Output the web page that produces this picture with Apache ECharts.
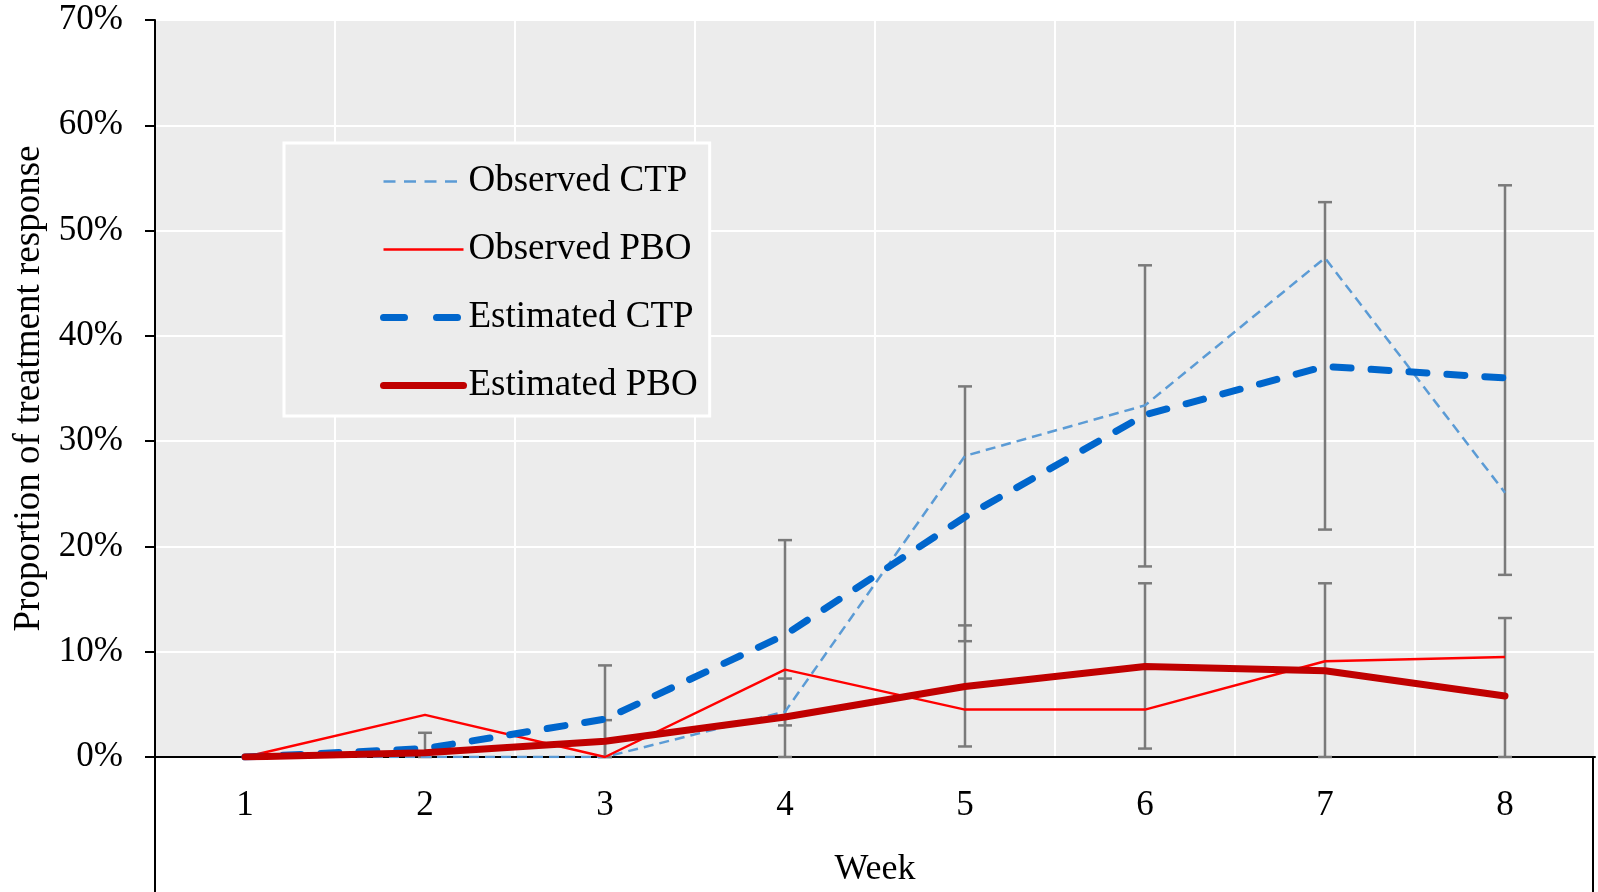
<!DOCTYPE html>
<html><head><meta charset="utf-8">
<script src="https://cdn.jsdelivr.net/npm/echarts@6/dist/echarts.min.js"></script>
<style>html,body{margin:0;padding:0;background:#fff}#c{width:1598px;height:892px}</style>
</head><body><div id="c"></div>
<script>
const weeks = ['1','2','3','4','5','6','7','8'];
const observedCTP = [0, 0, 0, 4.3, 28.6, 33.4, 47.4, 25.1];
const observedPBO = [0, 4.0, 0, 8.3, 4.5, 4.5, 9.1, 9.5];
const estimatedCTP = [0, 0.8, 3.6, 11.6, 22.8, 32.5, 37.1, 36.0];
const estimatedPBO = [0, 0.4, 1.5, 3.8, 6.7, 8.6, 8.2, 5.8];
const ctpLow  = [null, 0, 0, 3.0, 11.0, 18.1, 21.6, 17.3];
const ctpHigh = [null, 2.3, 8.7, 20.6, 35.2, 46.7, 52.7, 54.3];
const pboLow  = [null, null, 0, 0, 1.0, 0.8, 0, 0];
const pboHigh = [null, null, 3.5, 7.45, 12.5, 16.5, 16.5, 13.2];
const seriesNames = ['Observed CTP', 'Observed PBO', 'Estimated CTP', 'Estimated PBO'];

const FONT = "'Liberation Serif', 'Times New Roman', serif";

function errData(lo, hi) {
  const out = [];
  weeks.forEach((w, i) => { if (lo[i] != null && hi[i] != null) out.push([i, lo[i], hi[i]]); });
  return out;
}
const errStyle = {stroke: '#7a7a7a', lineWidth: 2.5};
function renderErr(params, api) {
  const x = api.value(0), lo = api.value(1), hi = api.value(2);
  const p1 = api.coord([x, lo]), p2 = api.coord([x, hi]);
  const cw = 7;
  return {type: 'group', children: [
    {type: 'line', shape: {x1: p1[0], y1: p1[1], x2: p2[0], y2: p2[1]}, style: errStyle},
    {type: 'line', shape: {x1: p1[0] - cw, y1: p1[1], x2: p1[0] + cw, y2: p1[1]}, style: errStyle},
    {type: 'line', shape: {x1: p2[0] - cw, y1: p2[1], x2: p2[0] + cw, y2: p2[1]}, style: errStyle}
  ]};
}

const chart = echarts.init(document.getElementById('c'), null, {renderer: 'canvas'});
chart.setOption({
  animation: false,
  backgroundColor: '#fff',
  grid: {left: 155, top: 20, width: 1440, height: 737, show: true, backgroundColor: '#ececec', borderWidth: 0,
         containLabel: false, outerBoundsMode: 'none'},
  xAxis: {
    type: 'category', data: weeks, boundaryGap: true,
    name: 'Week', nameLocation: 'middle', nameGap: 95,
    nameTextStyle: {fontFamily: FONT, fontSize: 36, color: '#000'},
    axisLine: {show: true, lineStyle: {color: '#000', width: 2}},
    axisTick: {show: false},
    axisLabel: {fontFamily: FONT, fontSize: 35, color: '#000', margin: 31},
    splitLine: {show: true, lineStyle: {color: '#fff', width: 2}}
  },
  yAxis: {
    type: 'value', min: 0, max: 70, interval: 10,
    name: 'Proportion of treatment response', nameLocation: 'middle', nameGap: 107,
    nameTextStyle: {fontFamily: FONT, fontSize: 37, color: '#000'},
    axisLine: {show: true, lineStyle: {color: '#000', width: 2}},
    axisTick: {show: true, inside: false, length: 10, lineStyle: {color: '#000', width: 2}},
    axisLabel: {fontFamily: FONT, fontSize: 35, color: '#000', margin: 32, formatter: '{value}%'},
    splitLine: {show: true, lineStyle: {color: '#fff', width: 2}}
  },
  legend: {
    orient: 'vertical', left: 284, top: 143,
    backgroundColor: '#ececec', borderColor: '#fff', borderWidth: 3, borderRadius: 0,
    padding: [20, 12, 12, 96],
    itemWidth: 80, itemHeight: 14, itemGap: 31,
    textStyle: {fontFamily: FONT, fontSize: 37, color: '#000', lineHeight: 37},
    itemStyle: {color: 'rgba(0,0,0,0)', borderWidth: 0, opacity: 0},
    lineStyle: {width: 'inherit', type: 'inherit', cap: 'inherit', opacity: 1},
    selectedMode: false,
    data: [
      {name: seriesNames[0], lineStyle: {type: [12, 8.5]}},
      {name: seriesNames[1]},
      {name: seriesNames[2], lineStyle: {type: [21, 32]}},
      {name: seriesNames[3]}
    ]
  },
  graphic: [
    {type: 'line', shape: {x1: 155, y1: 757, x2: 155, y2: 892}, style: {stroke: '#000', lineWidth: 2}, z: 10},
    {type: 'line', shape: {x1: 1593, y1: 757, x2: 1593, y2: 892}, style: {stroke: '#000', lineWidth: 2}, z: 10}
  ],
  series: [
    {type: 'custom', name: 'CTP interval', data: errData(ctpLow, ctpHigh), renderItem: renderErr, encode: {x: 0, y: [1, 2]}, z: 1, silent: true},
    {type: 'custom', name: 'PBO interval', data: errData(pboLow, pboHigh), renderItem: renderErr, encode: {x: 0, y: [1, 2]}, z: 1, silent: true},
    {type: 'line', name: seriesNames[0], data: observedCTP, symbol: 'none', z: 3,
     lineStyle: {color: '#5b9bd5', width: 2.5, type: [10, 6]}, itemStyle: {color: '#5b9bd5'}},
    {type: 'line', name: seriesNames[1], data: observedPBO, symbol: 'none', z: 3,
     lineStyle: {color: '#ff0000', width: 2.5, type: 'solid'}, itemStyle: {color: '#ff0000'}},
    {type: 'line', name: seriesNames[2], data: estimatedCTP, symbol: 'none', z: 4,
     lineStyle: {color: '#0066cc', width: 7, type: [18, 20], cap: 'round', join: 'round'}, itemStyle: {color: '#0066cc'}},
    {type: 'line', name: seriesNames[3], data: estimatedPBO, symbol: 'none', z: 4,
     lineStyle: {color: '#c00000', width: 7, type: 'solid', cap: 'round', join: 'round'}, itemStyle: {color: '#c00000'}}
  ]
});
</script>
</body></html>
